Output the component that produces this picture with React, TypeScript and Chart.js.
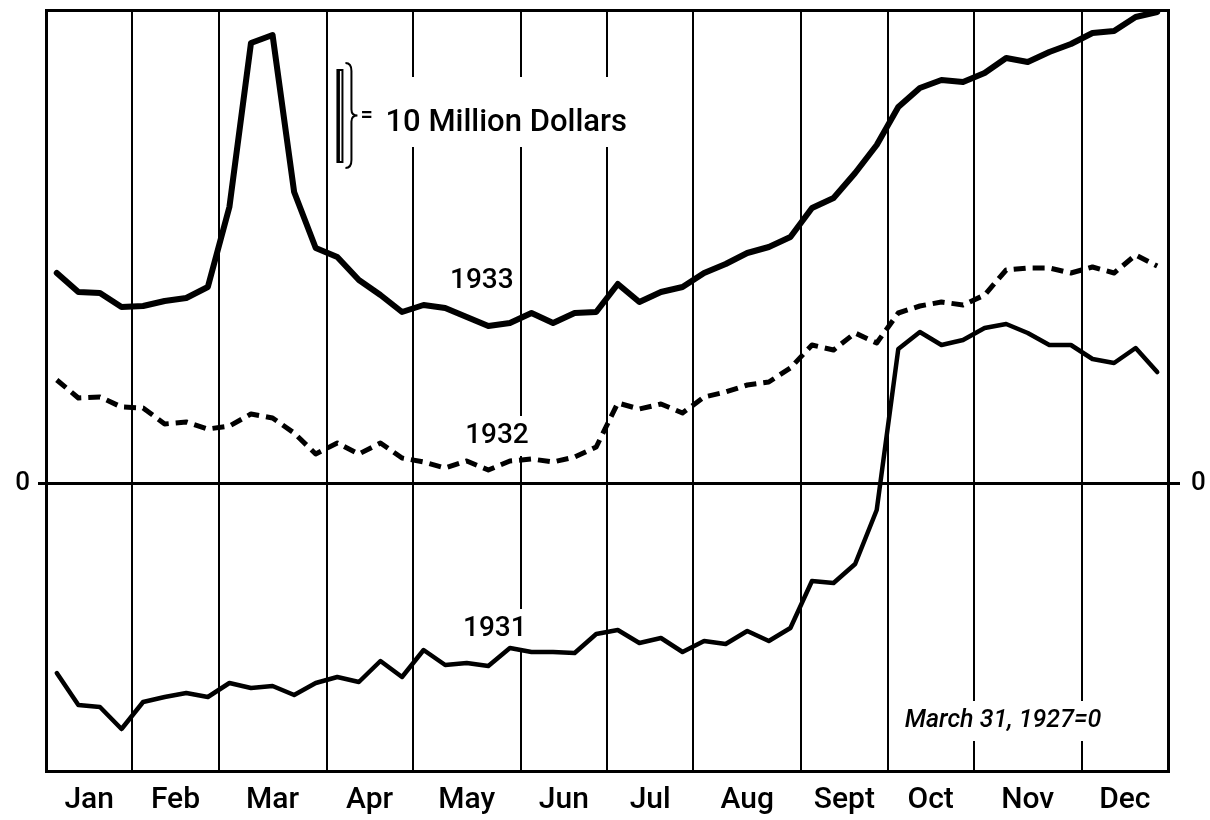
import React, { useEffect, useRef } from "react";
import { Chart, registerables } from "chart.js";

Chart.register(...registerables);

// Month labels and number of weeks in each month (4-4-5 pattern, 52 weeks)
const monthLabels = ["Jan", "Feb", "Mar", "Apr", "May", "Jun", "Jul", "Aug", "Sept", "Oct", "Nov", "Dec"];
const monthWeeks = [4, 4, 5, 4, 5, 4, 4, 5, 4, 4, 5, 4];

// Week numbers (1..52)
const weeks = Array.from({ length: 52 }, (_, i) => i + 1);

// Millions of dollars relative to March 31, 1927 = 0
const s1933 = [
  21.0, 19.1, 19.0, 17.6, 17.7, 18.2, 18.5, 19.6, 27.6, 44.0, 44.8, 29.1, 23.5,
  22.6, 20.3, 18.8, 17.1, 17.8, 17.5, 16.6, 15.7, 16.0, 17.0, 16.0, 17.0, 17.1,
  19.9, 18.1, 19.1, 19.6, 21.0, 21.9, 23.0, 23.6, 24.6, 27.5, 28.5, 31.0, 33.8,
  37.6, 39.5, 40.3, 40.1, 41.0, 42.5, 42.1, 43.1, 43.9, 45.0, 45.2, 46.6, 47.1,
];
const s1932 = [
  10.3, 8.5, 8.6, 7.6, 7.5, 5.9, 6.1, 5.4, 5.7, 6.9, 6.5, 5.0, 2.9,
  4.0, 2.9, 4.0, 2.5, 2.1, 1.5, 2.2, 1.3, 2.2, 2.4, 2.1, 2.6, 3.6,
  8.0, 7.4, 7.9, 7.0, 8.6, 9.1, 9.8, 10.1, 11.5, 13.8, 13.3, 15.0, 14.0,
  17.0, 17.7, 18.1, 17.8, 18.8, 21.3, 21.5, 21.5, 21.0, 21.6, 21.0, 22.8, 21.7,
];
const s1931 = [
  -19.0, -22.2, -22.4, -24.6, -21.9, -21.4, -21.0, -21.4, -20.0, -20.5, -20.3, -21.2, -20.0,
  -19.4, -19.9, -17.8, -19.4, -16.7, -18.2, -18.0, -18.3, -16.5, -16.9, -16.9, -17.0, -15.1,
  -14.7, -16.0, -15.5, -16.9, -15.8, -16.1, -14.8, -15.8, -14.5, -9.8, -10.0, -8.1, -2.7,
  13.4, 15.1, 13.8, 14.3, 15.5, 15.9, 15.0, 13.8, 13.8, 12.4, 12.0, 13.5, 11.1,
];

const yMin = -28.8;
const yMax = 47.3;

// Month boundaries and centres on the week axis
const monthBoundaries: number[] = [0.5];
const monthCenters: number[] = [];
monthWeeks.forEach((w) => {
  const start = monthBoundaries[monthBoundaries.length - 1];
  monthCenters.push(start + w / 2);
  monthBoundaries.push(start + w);
});

const FONT = "Roboto";

const noPad = (s: any) => {
  s.paddingTop = 0;
  s.paddingBottom = 0;
  s.paddingLeft = 0;
  s.paddingRight = 0;
};

const annotationPlugin = {
  id: "handAnnotations",
  beforeDatasetsDraw(chart: any) {
    const ctx = chart.ctx as CanvasRenderingContext2D;
    const xs = chart.scales.x;
    const ys = chart.scales.y;
    const px = (w: number) => xs.getPixelForValue(w);
    const py = (v: number) => ys.getPixelForValue(v);
    ctx.save();
    ctx.fillStyle = "#000";
    ctx.strokeStyle = "#000";

    const boxedText = (text: string, x: number, y: number, font: string, align: CanvasTextAlign, padX = 5, padY = 6) => {
      ctx.font = font;
      ctx.textAlign = align;
      ctx.textBaseline = "middle";
      const m = ctx.measureText(text);
      const w = m.width;
      const h = m.actualBoundingBoxAscent + m.actualBoundingBoxDescent;
      const left = align === "center" ? x - w / 2 : x;
      ctx.fillStyle = "#fff";
      ctx.fillRect(left - padX, y - h / 2 - padY, w + padX * 2, h + padY * 2);
      ctx.fillStyle = "#000";
      ctx.fillText(text, x, y);
    };

    // Series labels
    boxedText("1933", px(20.7), py(20.2), `500 28px ${FONT}`, "center");
    boxedText("1932", px(21.4), py(4.7), `500 28px ${FONT}`, "center", 5, 10);
    boxedText("1931", px(21.3), py(-14.6), `500 28px ${FONT}`, "center", 5, 10);
    boxedText("March 31, 1927=0", px(40.3), py(-23.8), `italic 500 25px ${FONT}`, "left", 4, 8);

    // Scale key: bracket = 10 Million Dollars
    const bx = px(14.1);
    const top = py(41.3);
    const bot = py(32.1);
    ctx.fillStyle = "#fff";
    ctx.fillRect(bx + 20, py(40.6), px(27.3) - (bx + 20), py(33.6) - py(40.6));
    ctx.fillStyle = "#000";
    // I-beam
    ctx.lineWidth = 2;
    ctx.strokeRect(bx - 2, top, 5, bot - top);
    ctx.lineWidth = 3;
    ctx.beginPath();
    ctx.moveTo(bx - 1, top);
    ctx.lineTo(bx - 1, bot);
    ctx.stroke();
    // brace
    const bt = py(42.0);
    const bb = py(31.5);
    const mid = (bt + bb) / 2;
    const cx = bx + 12;
    ctx.lineWidth = 2;
    ctx.beginPath();
    ctx.moveTo(cx - 6, bt);
    ctx.quadraticCurveTo(cx, bt, cx, bt + 8);
    ctx.lineTo(cx, mid - 6);
    ctx.quadraticCurveTo(cx, mid, cx + 6, mid);
    ctx.quadraticCurveTo(cx, mid, cx, mid + 6);
    ctx.lineTo(cx, bb - 8);
    ctx.quadraticCurveTo(cx, bb, cx - 6, bb);
    ctx.stroke();
    // "=" and text
    ctx.font = `500 22px ${FONT}`;
    ctx.textAlign = "left";
    ctx.textBaseline = "middle";
    ctx.fillText("=", cx + 9, mid + 1);
    ctx.font = `500 31px ${FONT}`;
    ctx.textBaseline = "alphabetic";
    ctx.fillText("10 Million Dollars", cx + 34, mid + 15);
    ctx.restore();
  },
};

export default function App() {
  const ref = useRef<HTMLCanvasElement>(null);
  useEffect(() => {
    if (!ref.current) return;
    const mk = (vals: number[]) => weeks.map((w, i) => ({ x: w, y: vals[i] }));
    const chart = new Chart(ref.current, {
      type: "line",
      data: {
        datasets: [
          {
            label: "1933",
            data: mk(s1933),
            borderColor: "#000",
            borderWidth: 6,
            borderJoinStyle: "round",
            borderCapStyle: "round",
            pointRadius: 0,
            tension: 0,
            fill: false,
            clip: false,
          },
          {
            label: "1932",
            data: mk(s1932),
            borderColor: "#000",
            borderWidth: 5,
            borderDash: [12, 7],
            borderJoinStyle: "round",
            pointRadius: 0,
            tension: 0,
            fill: false,
          },
          {
            label: "1931",
            data: mk(s1931),
            borderColor: "#000",
            borderWidth: 4.5,
            borderJoinStyle: "round",
            borderCapStyle: "round",
            pointRadius: 0,
            tension: 0,
            fill: false,
          },
        ],
      },
      options: {
        animation: false,
        responsive: false,
        events: [],
        layout: { padding: 0 },
        plugins: { legend: { display: false }, tooltip: { enabled: false } },
        scales: {
          x: {
            type: "linear",
            position: "bottom",
            min: 0.5,
            max: 52.5,
            afterBuildTicks: (s: any) => {
              s.ticks = monthCenters.map((v) => ({ value: v }));
            },
            afterFit: (s: any) => {
              s.height = 49;
              noPad(s);
            },
            grid: { display: false, drawTicks: false },
            border: { display: true, color: "#000", width: 3 },
            ticks: {
              autoSkip: false,
              maxRotation: 0,
              minRotation: 0,
              padding: 11,
              color: "#000",
              font: { family: FONT, size: 30, weight: "500" },
              callback: (_v: any, i: number) => monthLabels[i],
            },
          },
          xg: {
            type: "linear",
            position: "top",
            min: 0.5,
            max: 52.5,
            afterBuildTicks: (s: any) => {
              s.ticks = monthBoundaries.map((v) => ({ value: v }));
            },
            afterFit: (s: any) => {
              s.height = 10;
              noPad(s);
            },
            grid: { display: true, color: "#000", lineWidth: 2, drawTicks: false },
            border: { display: true, color: "#000", width: 3 },
            ticks: { display: false },
          },
          y: {
            type: "linear",
            position: "left",
            min: yMin,
            max: yMax,
            afterBuildTicks: (s: any) => {
              s.ticks = [{ value: 0 }];
            },
            afterFit: (s: any) => {
              s.width = 46;
              noPad(s);
            },
            grid: { color: "#000", lineWidth: 3, drawTicks: true, tickLength: 8 },
            border: { display: true, color: "#000", width: 3 },
            ticks: {
              padding: 8,
              color: "#000",
              font: { family: FONT, size: 26, weight: "500" },
              callback: () => "0",
            },
          },
          y2: {
            type: "linear",
            position: "right",
            min: yMin,
            max: yMax,
            afterBuildTicks: (s: any) => {
              s.ticks = [{ value: 0 }];
            },
            afterFit: (s: any) => {
              s.width = 42;
              noPad(s);
            },
            grid: { color: "#000", lineWidth: 3, drawTicks: true, tickLength: 12, drawOnChartArea: false },
            border: { display: true, color: "#000", width: 3 },
            ticks: {
              padding: 11,
              color: "#000",
              font: { family: FONT, size: 26, weight: "500" },
              callback: () => "0",
            },
          },
        },
      },
      plugins: [annotationPlugin],
    } as any);
    return () => chart.destroy();
  }, []);
  return (
    <div style={{ position: "absolute", left: 0, top: 0, width: 1210, height: 820, background: "#fff" }}>
      <canvas ref={ref} width={1210} height={820} style={{ display: "block" }} />
    </div>
  );
}
